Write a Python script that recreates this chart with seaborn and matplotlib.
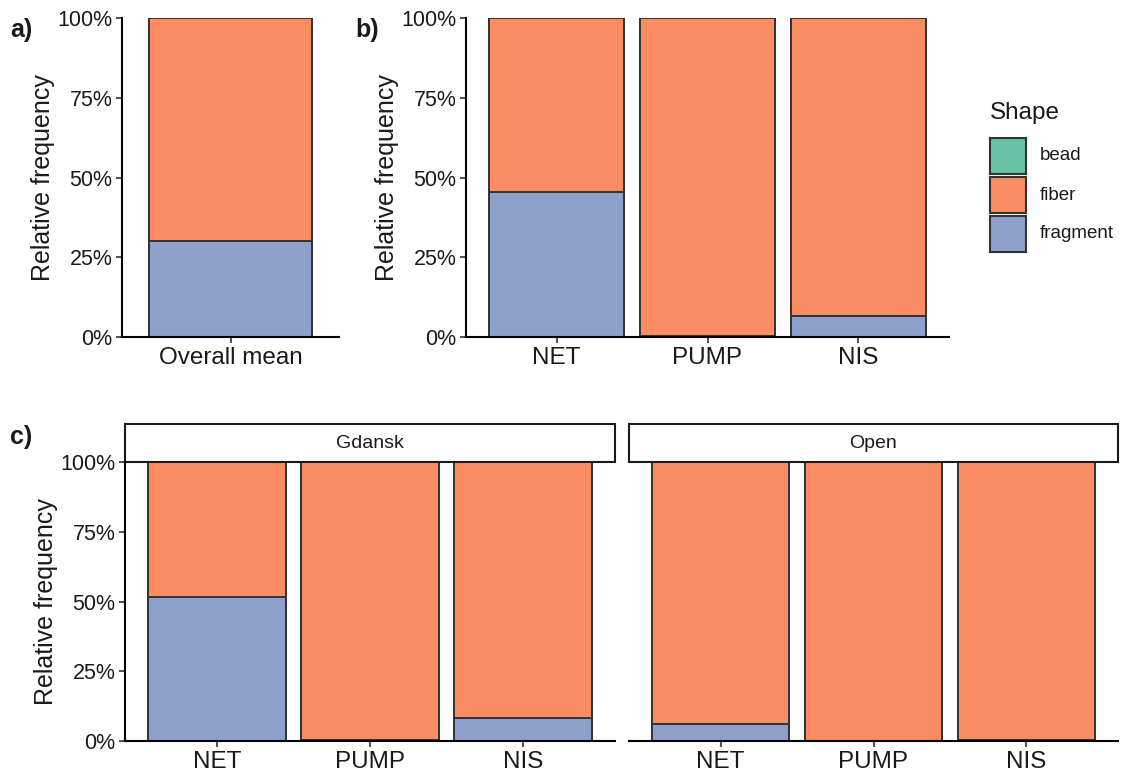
import matplotlib
matplotlib.use("Agg")

import matplotlib.pyplot as plt
import matplotlib.patches as mpatches
import numpy as np
import pandas as pd
import seaborn as sns

sns.set_style("white")
plt.rcParams["font.family"] = ["Liberation Sans", "DejaVu Sans"]

# Data (relative frequencies)
shapes = ["bead", "fiber", "fragment"]
colors = {"bead": "#66C2A5", "fiber": "#FC8D62", "fragment": "#8DA0CB"}
edge = "#333333"
txt = "#1a1a1a"

overall_cat = ["Overall mean"]
overall_bead = [0.0]
overall_fragment = [0.30]

method_cat = ["NET", "PUMP", "NIS"]
method_bead = [0.0, 0.0, 0.0]
method_fragment = [0.455, 0.003, 0.066]

gdansk_bead = [0.0, 0.0, 0.0]
gdansk_fragment = [0.516, 0.005, 0.082]

open_bead = [0.0, 0.0, 0.0]
open_fragment = [0.061, 0.0, 0.005]


def make_df(cats, bead, fragment):
    bead = np.array(bead)
    fragment = np.array(fragment)
    fiber = 1 - bead - fragment
    return pd.DataFrame({"cat": cats, "bead": bead, "fiber": fiber, "fragment": fragment})


def stacked(ax, df, ylabel=True):
    cats = list(df["cat"])
    # stack: fragment bottom, fiber middle, bead top
    top_total = df["fragment"] + df["fiber"] + df["bead"]
    mid_total = df["fragment"] + df["fiber"]
    for vals, shp in [(top_total, "bead"), (mid_total, "fiber"), (df["fragment"], "fragment")]:
        sns.barplot(x=df["cat"], y=vals, order=cats, color=colors[shp], width=0.9,
                    edgecolor=edge, linewidth=1.4, saturation=1, ax=ax)
    n = len(cats)
    ax.set_xlim(-0.6, n - 0.4)
    ax.set_ylim(0, 1)
    ax.set_yticks([0, 0.25, 0.5, 0.75, 1.0])
    ax.set_xlabel("")
    for s in ["top", "right"]:
        ax.spines[s].set_visible(False)
    for s in ["left", "bottom"]:
        ax.spines[s].set_linewidth(1.5)
        ax.spines[s].set_color("black")
    ax.tick_params(axis="both", direction="out", length=4.5, width=1.2, color="#333333",
                   labelcolor=txt, left=True, bottom=True, pad=2.5)
    ax.tick_params(axis="y", labelsize=15.5)
    ax.tick_params(axis="x", labelsize=17.5)
    if ylabel:
        ax.set_yticklabels(["0%", "25%", "50%", "75%", "100%"])
        ax.set_ylabel("Relative frequency", fontsize=18, labelpad=1.5, color=txt)
    else:
        ax.set_ylabel("")


W, H = 1125, 775
fig = plt.figure(figsize=(W / 100, H / 100), dpi=100)


def add_ax(x0, y0, x1, y1):
    return fig.add_axes([x0 / W, 1 - y1 / H, (x1 - x0) / W, (y1 - y0) / H])


ax_a = add_ax(122, 18, 339, 337)
stacked(ax_a, make_df(overall_cat, overall_bead, overall_fragment))

ax_b = add_ax(466, 18, 949, 337)
stacked(ax_b, make_df(method_cat, method_bead, method_fragment))

ax_g = add_ax(125, 462, 615, 741)
stacked(ax_g, make_df(method_cat, gdansk_bead, gdansk_fragment))

ax_o = add_ax(629, 462, 1118, 741)
stacked(ax_o, make_df(method_cat, open_bead, open_fragment), ylabel=False)
ax_o.spines["left"].set_visible(False)
ax_o.tick_params(axis="y", left=False, labelleft=False)

# facet strips
for ax, name in [(ax_g, "Gdansk"), (ax_o, "Open")]:
    strip_h = 38 / 279
    rect = mpatches.Rectangle((0, 1), 1, strip_h, transform=ax.transAxes, facecolor="white",
                              edgecolor="#1a1a1a", linewidth=1.5, clip_on=False)
    ax.add_patch(rect)
    ax.text(0.5, 1 + strip_h / 2, name, transform=ax.transAxes, ha="center", va="center",
            fontsize=14, color=txt)

# panel labels
fig.text(10 / W, 1 - 30 / H, "a)", fontsize=18, fontweight="bold", va="center", color=txt)
fig.text(355 / W, 1 - 30 / H, "b)", fontsize=18, fontweight="bold", va="center", color=txt)
fig.text(10 / W, 1 - 437 / H, "c)", fontsize=18, fontweight="bold", va="center", color=txt)

# legend (drawn by hand to match ggplot key sizes)
fig.text(990 / W, 1 - 113 / H, "Shape", fontsize=17.5, va="center", ha="left", color=txt)
key_tops = [138, 177, 216]
for shp, yt in zip(shapes, key_tops):
    fig.add_artist(mpatches.Rectangle((990 / W, 1 - (yt + 36) / H), 36 / W, 36 / H,
                                      transform=fig.transFigure, facecolor=colors[shp],
                                      edgecolor=edge, linewidth=1.5))
    fig.text(1040 / W, 1 - (yt + 18) / H, shp, fontsize=13.5, va="center", ha="left", color=txt)

fig.savefig("out.png", dpi=100)
plt.close(fig)
